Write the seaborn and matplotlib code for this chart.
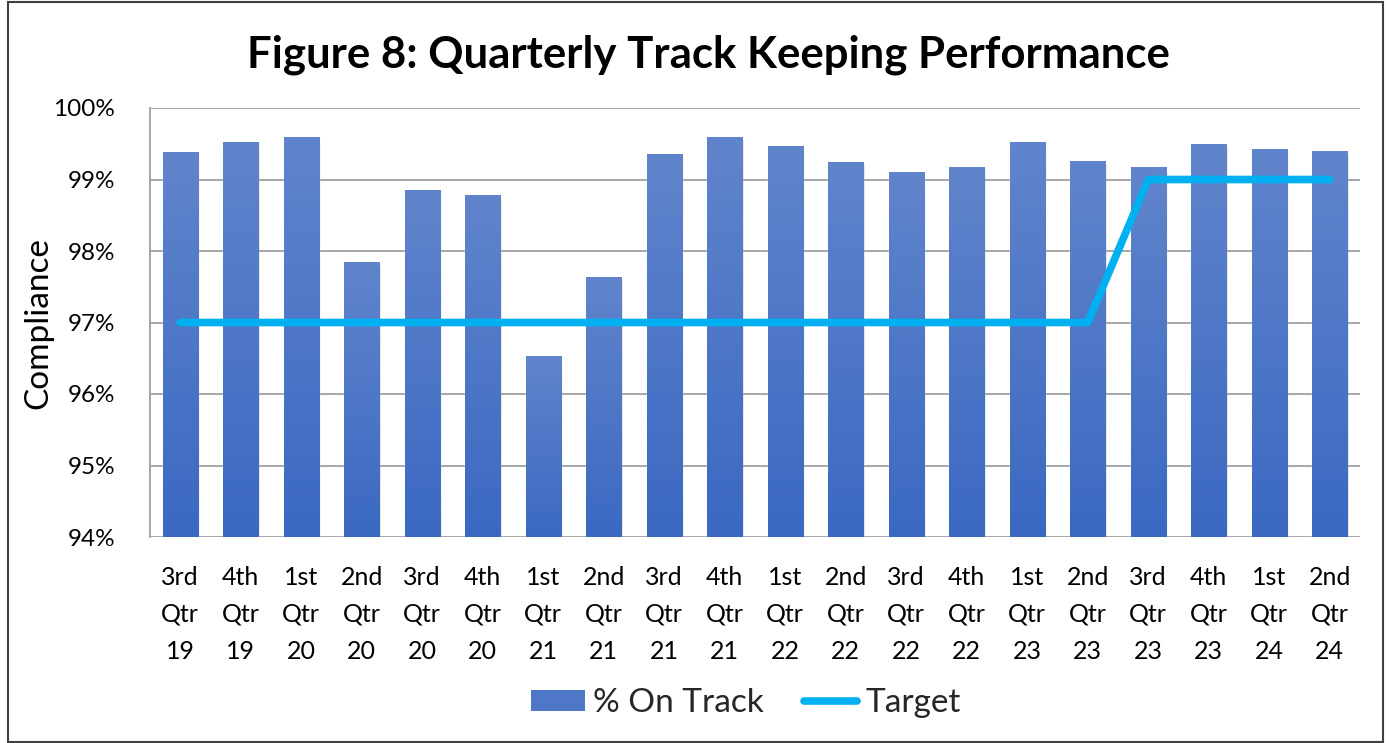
import numpy as np
import pandas as pd
import matplotlib
matplotlib.use("Agg")
import matplotlib.pyplot as plt
import seaborn as sns
from matplotlib.patches import Patch, Rectangle
from matplotlib.lines import Line2D
from matplotlib.colors import LinearSegmentedColormap

quarters = ["3rd", "4th", "1st", "2nd", "3rd", "4th", "1st", "2nd", "3rd", "4th",
            "1st", "2nd", "3rd", "4th", "1st", "2nd", "3rd", "4th", "1st", "2nd"]
years = ["19", "19", "20", "20", "20", "20", "21", "21", "21", "21",
         "22", "22", "22", "22", "23", "23", "23", "23", "24", "24"]
on_track = [99.39, 99.52, 99.60, 97.84, 98.86, 98.78, 96.53, 97.63, 99.35, 99.59,
            99.47, 99.25, 99.10, 99.18, 99.52, 99.26, 99.17, 99.49, 99.42, 99.40]
target = [97, 97, 97, 97, 97, 97, 97, 97, 97, 97,
          97, 97, 97, 97, 97, 97, 99, 99, 99, 99]
ytick_vals = [94, 95, 96, 97, 98, 99, 100]

labels = [f"{q}\nQtr\n{y}" for q, y in zip(quarters, years)]
df = pd.DataFrame({"label": labels, "on_track": on_track, "target": target})

sns.set_theme(style="white")
plt.rcParams["font.family"] = ["Lato", "DejaVu Sans"]

W, H = 1389, 743
fig = plt.figure(figsize=(W / 100, H / 100), dpi=100)
ax = fig.add_axes([150 / W, 1 - 537 / H, 1210 / W, (537 - 108) / H])

bar_top = np.array([0.38, 0.52, 0.80])
bar_bot = np.array([0.23, 0.41, 0.76])
sns.barplot(data=df, x="label", y="on_track", color="#4F77C8", width=0.58,
            saturation=1, ax=ax, zorder=3)
sns.lineplot(x=np.arange(len(df)), y=df["target"], ax=ax, color="#00B0F0",
             linewidth=5.5, zorder=5, solid_capstyle="round", solid_joinstyle="round")

ax.set_ylim(94, 100)
ax.set_xlim(-0.5, len(df) - 0.5)

cmap = LinearSegmentedColormap.from_list("bg", [bar_bot, bar_top])
grad = np.linspace(0, 1, 256).reshape(-1, 1)
for p in list(ax.patches):
    x0, w = p.get_x(), p.get_width()
    top = p.get_height()
    for k, a in enumerate([0.10, 0.07, 0.04]):
        off = 0.012 * (k + 1)
        ax.add_patch(Rectangle((x0 + off, 94), w, top - 94 - 0.02 * (k + 1),
                               facecolor="black", alpha=a, edgecolor="none", zorder=2))
    im = ax.imshow(grad, extent=(x0, x0 + w, 94, top), origin="lower", cmap=cmap,
                   aspect="auto", zorder=3.5)
    im.set_clip_path(p)
    p.set_facecolor("none")
ax.set_xlim(-0.5, len(df) - 0.5)
ax.set_ylim(94, 100)

ax.set_yticks(ytick_vals)
ax.set_yticklabels([f"{v}%" for v in ytick_vals], fontsize=17.5, color="#000000")
ax.tick_params(axis="y", length=0, pad=25)
ax.tick_params(axis="x", length=0, pad=21, labelsize=18, labelcolor="#000000")
for t in ax.get_xticklabels():
    t.set_linespacing(1.72)
ax.set_xlabel("")
ax.set_ylabel("")
ax.yaxis.grid(True, color="#A6A6A6", linewidth=1.4, zorder=1)
ax.set_axisbelow(True)
for s in ["top", "right", "bottom"]:
    ax.spines[s].set_visible(False)
ax.spines["left"].set_color("#A6A6A6")
ax.spines["left"].set_linewidth(1.4)

fig.text(708 / W, 1 - 55 / H, "Figure 8: Quarterly Track Keeping Performance",
         ha="center", va="center", fontsize=31.5, fontweight="bold", color="#000000")
fig.text(38 / W, 1 - 323 / H, "Compliance", rotation=90, ha="center", va="center",
         fontsize=24, color="#000000")

handles = [Patch(facecolor="#4F77C8", edgecolor="none"),
           Line2D([0], [0], color="#00B0F0", linewidth=5.5, solid_capstyle="round")]
fig.legend(handles, ["% On Track", "Target"], loc="center", ncol=2,
           bbox_to_anchor=(746 / W, 1 - 703 / H), frameon=False, fontsize=24,
           handlelength=1.6, handleheight=0.6, handletextpad=0.25, columnspacing=1.2)

fig.add_artist(Rectangle((8 / W, 1 / H), (1383 - 8) / W, (741 - 1) / H,
                         transform=fig.transFigure, fill=False,
                         edgecolor="#404040", linewidth=1.5))

fig.savefig("out.png", dpi=100)
